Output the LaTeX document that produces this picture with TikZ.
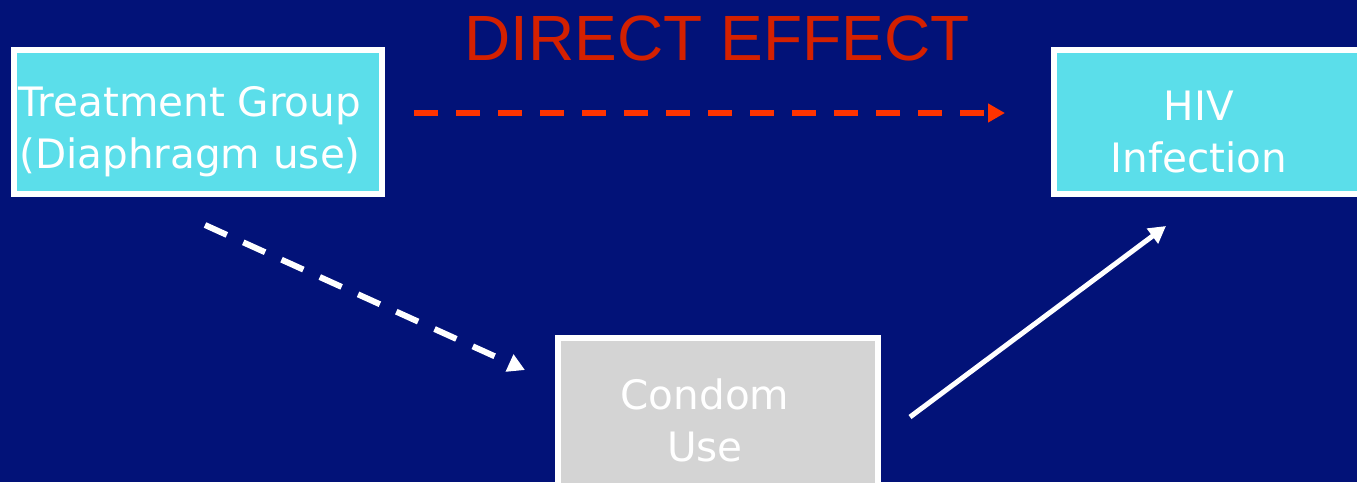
\documentclass[tikz,border=0pt]{standalone}
\usepackage{fontspec}
\setmainfont{DejaVu Sans}
\newfontfamily\titlefont{Liberation Sans}
\usepackage{tikz}
\usetikzlibrary{positioning,arrows.meta,calc}
\definecolor{cBack}{HTML}{021278}
\definecolor{cCyan}{HTML}{5BDEEA}
\definecolor{cGrey}{HTML}{D4D4D4}
\definecolor{cRed}{HTML}{FF3300}
\definecolor{cTitle}{HTML}{D42000}
\tikzset{
  fig/box/.style     ={draw=white, line width=6pt, inner sep=0pt},
  fig/cyanbox/.style ={fig/box, fill=cCyan},
  fig/greybox/.style ={fig/box, fill=cGrey},
  fig/boxtext/.style ={text=white, align=center, inner sep=0pt,
                       font=\fontsize{40.5}{52}\selectfont},
  fig/tip/.style     ={-{Triangle[length=17pt, width=18pt]}},
  fig/arrred/.style  ={fig/tip, cRed, line width=6pt, dash pattern=on 24pt off 18pt},
  fig/arrdash/.style ={fig/tip, white, line width=6pt, dash pattern=on 24pt off 18pt},
  fig/arrwhite/.style={fig/tip, white, line width=5pt},
  fig/title/.style   ={font=\titlefont\fontsize{64}{64}\selectfont, text=cTitle, anchor=base}
}

\begin{document}
\begin{tikzpicture}[x=1pt, y=-1pt]
    % background (fixes the page size)
    \fill[cBack] (0,0) rectangle (1357,482);
    \useasboundingbox (0,0) rectangle (1357,482);

    \node[fig/title] (title) at (717,60) {DIRECT EFFECT};

    % the three boxes
    \node[fig/cyanbox, minimum width=368pt, minimum height=144pt] (treat) at (198,122) {};
    \node[fig/cyanbox, minimum width=308pt, minimum height=144pt] (hiv) at (1208,122) {};
    \node[fig/greybox, minimum width=320pt, minimum height=152pt] (cond) at (718,414) {};
    % their texts
    \node[fig/boxtext] (treatTxt) at (190,132) {Treatment Group\\(Diaphragm use)};
    \node[fig/boxtext] (hivTxt)   at (1199,132) {HIV\\Infection};
    \node[fig/boxtext] (condTxt)  at (705,420) {Condom\\Use};

    % direct and indirect paths
    \draw[fig/arrred] ([yshift=9pt]treat.east) ++(29pt,0) -- ([yshift=9pt,xshift=-46pt]hiv.west);
    \draw[fig/arrdash] ([xshift=7pt,yshift=-28pt]treat.south)
      -- ([xshift=-30pt,yshift=-35pt]cond.north west);
    \draw[fig/arrwhite] ([xshift=29pt,yshift=-3pt]cond.east)
      -- ([xshift=-42pt,yshift=-29pt]hiv.south);
\end{tikzpicture}
\end{document}
